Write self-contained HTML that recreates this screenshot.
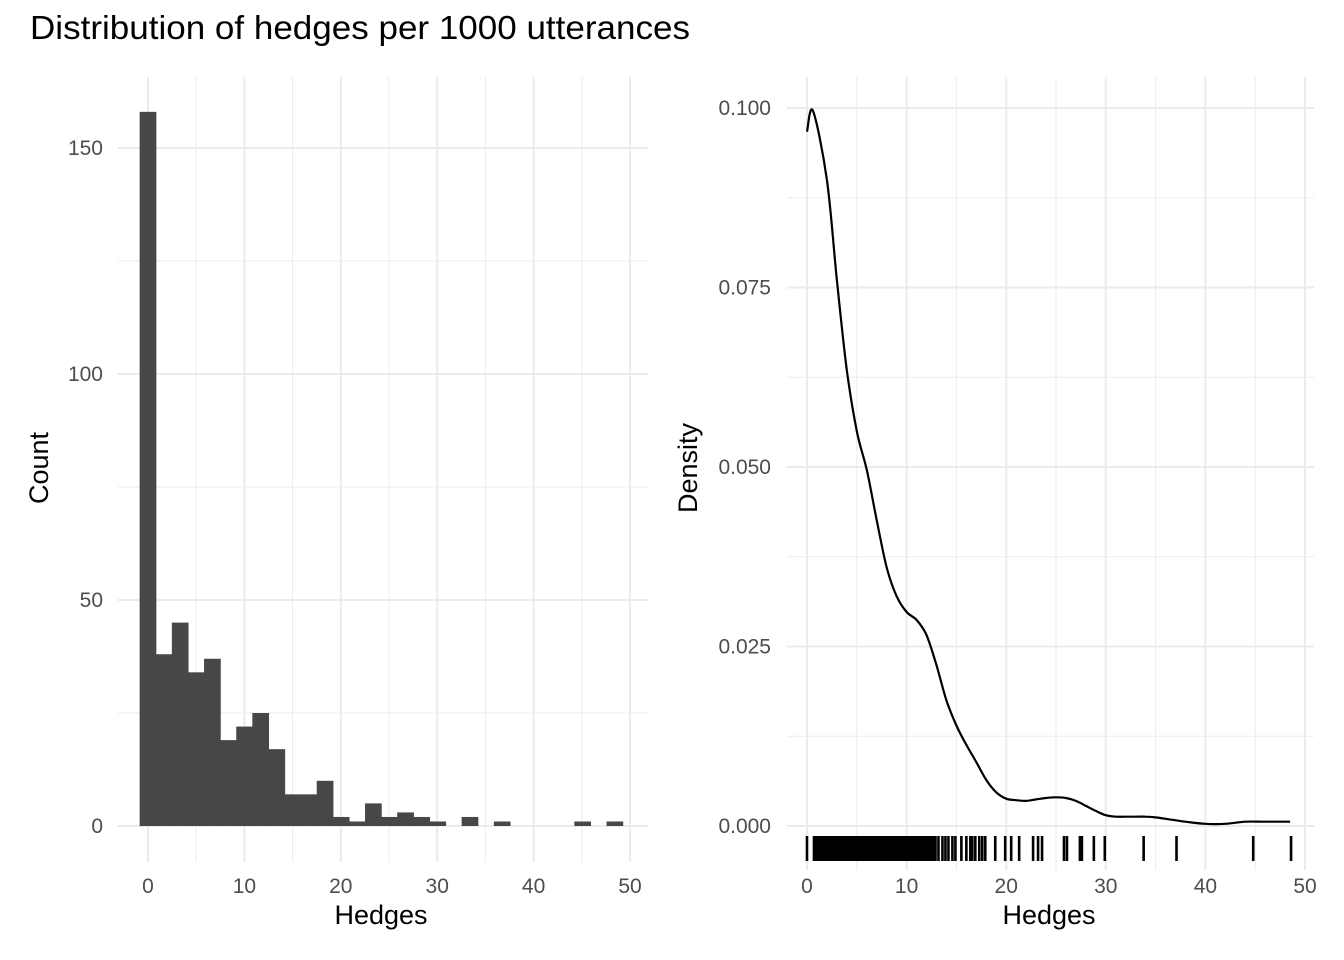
<!DOCTYPE html>
<html><head><meta charset="utf-8"><style>
body{margin:0;background:#fff;}
svg{display:block;font-family:"Liberation Sans",Arial,sans-serif;}
</style></head><body>
<svg id="c" width="1344" height="960">
<text x="30" y="39" font-size="33" fill="#000" textLength="660" lengthAdjust="spacingAndGlyphs">Distribution of hedges per 1000 utterances</text>
<g id="left"></g>
<g id="right"></g>
</svg>
<script>
const histCounts=[158,38,45,34,37,19,22,25,17,7,7,10,2,1,5,2,3,2,1,0,2,0,1,0,0,0,0,1,0,1];
const histBinWidth=1.67;
const histXTicks=[0,10,20,30,40,50];
const histYTicks=[0,50,100,150];
const densX=[0,0.6,2,3,4,5,6,7,8,9,10,11,12,13,14,15,16,17,18,19,20,21,22,23,24,25,26,27,28,29,30,31,32,33,34,35,36,38,40,42,44,46,48.5];
const densY=[0.0967,0.0996,0.090,0.076,0.0635,0.055,0.0496,0.0426,0.036,0.032,0.0298,0.0287,0.0266,0.0224,0.0175,0.014,0.0113,0.0089,0.0064,0.0047,0.0038,0.0036,0.0035,0.0037,0.0039,0.004,0.0039,0.0035,0.0028,0.0021,0.0015,0.0013,0.0013,0.0013,0.0013,0.0012,0.001,0.0006,0.0003,0.0003,0.0006,0.0006,0.0006];
const rugX=[0,0.7,0.9,1.1,1.3,1.5,1.7,1.9,2.1,2.3,2.5,2.7,2.9,3.1,3.3,3.5,3.7,3.9,4.1,4.3,4.5,4.7,4.9,5.1,5.3,5.5,5.7,5.9,6.1,6.3,6.5,6.7,6.9,7.1,7.3,7.5,7.7,7.9,8.1,8.3,8.5,8.7,8.9,9.1,9.3,9.5,9.7,9.9,10.1,10.3,10.5,10.7,10.9,11.1,11.3,11.5,11.7,11.9,12.1,12.3,12.5,12.7,12.9,13.2,13.6,13.9,14.2,14.6,14.9,15.5,16,16.4,16.6,16.9,17.3,17.6,17.9,18.9,19.9,20.5,21.3,22.7,23.2,23.6,25.8,26.1,27.4,27.6,28.8,29.9,33.8,37.1,44.8,48.6];
const densXTicks=[0,10,20,30,40,50];
const densYTicks=[0,0.025,0.05,0.075,0.1];
const NS="http://www.w3.org/2000/svg";
function mk(p,t,a){const e=document.createElementNS(NS,t);for(const k in a)e.setAttribute(k,a[k]);p.appendChild(e);return e;}
const TF=21, AF=27;
// left
const L=document.getElementById('left');
const lx=v=>148+(v)*9.64, ly=v=>826-v*4.52;
const lTop=77,lBot=862,lL=118,lR=648;
for(let v=5;v<50;v+=10){const g=mk(L,'line',{x1:lx(v),x2:lx(v),y1:lTop,y2:lBot,stroke:'#ebebeb','stroke-width':1});}
for(let v=25;v<160;v+=50){const g=mk(L,'line',{x1:lL,x2:lR,y1:ly(v),y2:ly(v),stroke:'#ebebeb','stroke-width':1});}
histXTicks.forEach(v=>{const g=mk(L,'line',{x1:lx(v),x2:lx(v),y1:lTop,y2:lBot,stroke:'#ebebeb','stroke-width':2});
const t=mk(L,'text',{x:lx(v),y:893,'font-size':TF,fill:'#4d4d4d','text-anchor':'middle'});t.textContent=v;});
histYTicks.forEach(v=>{const g=mk(L,'line',{x1:lL,x2:lR,y1:ly(v),y2:ly(v),stroke:'#ebebeb','stroke-width':2});
const t=mk(L,'text',{x:103,y:ly(v)+7,'font-size':TF,fill:'#4d4d4d','text-anchor':'end'});t.textContent=v;});
histCounts.forEach((c,i)=>{if(c<=0)return;const x0=lx((i-0.5)*histBinWidth),x1=lx((i+0.5)*histBinWidth);
const r=mk(L,'rect',{x:x0-0.3,y:ly(c),width:x1-x0+0.6,height:ly(0)-ly(c),fill:'#474747'});});
let t=mk(L,'text',{x:381,y:924,'font-size':AF,fill:'#000','text-anchor':'middle'});t.textContent='Hedges';
t=mk(L,'text',{x:48,y:468,'font-size':AF,fill:'#000','text-anchor':'middle',transform:'rotate(-90 48 468)'});t.textContent='Count';
// right
const R=document.getElementById('right');
const rx=v=>807+v*9.96, ry=v=>826-v*7180;
const rTop=77,rBot=870,rL=787,rR=1314;
for(let v=5;v<55;v+=10){const g=mk(R,'line',{x1:rx(v),x2:rx(v),y1:rTop,y2:rBot,stroke:'#ebebeb','stroke-width':1});}
for(let v=0.0125;v<0.1;v+=0.025){const g=mk(R,'line',{x1:rL,x2:rR,y1:ry(v),y2:ry(v),stroke:'#ebebeb','stroke-width':1});}
densXTicks.forEach(v=>{const g=mk(R,'line',{x1:rx(v),x2:rx(v),y1:rTop,y2:rBot,stroke:'#ebebeb','stroke-width':2});
const t=mk(R,'text',{x:rx(v),y:893,'font-size':TF,fill:'#4d4d4d','text-anchor':'middle'});t.textContent=v;});
densYTicks.forEach(v=>{const g=mk(R,'line',{x1:rL,x2:rR,y1:ry(v),y2:ry(v),stroke:'#ebebeb','stroke-width':2});
const t=mk(R,'text',{x:771,y:ry(v)+7,'font-size':TF,fill:'#4d4d4d','text-anchor':'end'});t.textContent=v.toFixed(3);});
rugX.forEach(v=>{const l=mk(R,'line',{x1:rx(v),x2:rx(v),y1:836,y2:861,stroke:'#000','stroke-width':2.6});});
const pts=densX.map((v,i)=>[rx(v),ry(densY[i])]);
let d='M'+pts[0][0].toFixed(1)+','+pts[0][1].toFixed(1);
for(let i=0;i<pts.length-1;i++){const p0=pts[Math.max(i-1,0)],p1=pts[i],p2=pts[i+1],p3=pts[Math.min(i+2,pts.length-1)];
const c1=[p1[0]+(p2[0]-p0[0])/6,p1[1]+(p2[1]-p0[1])/6],c2=[p2[0]-(p3[0]-p1[0])/6,p2[1]-(p3[1]-p1[1])/6];
d+='C'+c1.map(n=>n.toFixed(1)).join(',')+' '+c2.map(n=>n.toFixed(1)).join(',')+' '+p2[0].toFixed(1)+','+p2[1].toFixed(1);}
const p=mk(R,'path',{d:d,fill:'none',stroke:'#000','stroke-width':2.2,'stroke-linejoin':'round'});
t=mk(R,'text',{x:1049,y:924,'font-size':AF,fill:'#000','text-anchor':'middle'});t.textContent='Hedges';
t=mk(R,'text',{x:697,y:468,'font-size':AF,fill:'#000','text-anchor':'middle',transform:'rotate(-90 697 468)'});t.textContent='Density';
</script>
</body></html>
